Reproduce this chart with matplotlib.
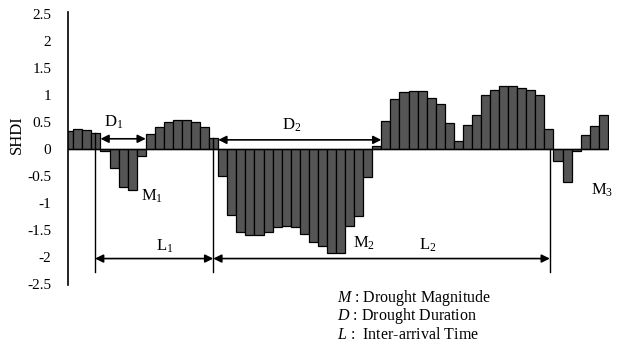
import numpy as np
import matplotlib
matplotlib.use("Agg")
import matplotlib.pyplot as plt

plt.rcParams["font.family"] = ["Liberation Serif", "DejaVu Serif"]
plt.rcParams["mathtext.fontset"] = "custom"
plt.rcParams["mathtext.rm"] = "Liberation Serif"
plt.rcParams["mathtext.it"] = "Liberation Serif:italic"

# ── Data ─────────────────────────────────────────────────────
# SHDI value of each period
shdi = [
    0.33, 0.38, 0.36, 0.29, -0.04, -0.35, -0.70, -0.75, -0.13, 0.28,
    0.41, 0.50, 0.54, 0.54, 0.50, 0.41, 0.21, -0.50, -1.22, -1.53,
    -1.60, -1.60, -1.53, -1.45, -1.43, -1.45, -1.58, -1.72, -1.80, -1.93,
    -1.93, -1.42, -1.25, -0.52, 0.05, 0.52, 0.92, 1.06, 1.08, 1.08,
    0.94, 0.83, 0.49, 0.15, 0.44, 0.63, 1.00, 1.10, 1.17, 1.17,
    1.14, 1.09, 1.00, 0.38, -0.22, -0.62, -0.04, 0.26, 0.43, 0.63,
]
periods = np.arange(len(shdi))

y_ticks = [2.5, 2, 1.5, 1, 0.5, 0, -0.5, -1, -1.5, -2, -2.5]
y_tick_labels = ["2.5", "2", "1.5", "1", "0.5", "0", "-0.5", "-1", "-1.5", "-2", "-2.5"]

# event boundaries (period positions) used for the L markers
l_marks = [2.9, 15.95, 53.1]
l_mark_tops = [0.29, 0.21, 0.0]

legend_lines = [
    r"$\mathit{M}$ : Drought Magnitude",
    r"$\mathit{D}$ : Drought Duration",
    r"$\mathit{L}$ :  Inter-arrival Time",
]

# ── Figure ───────────────────────────────────────────────────
W, H = 619, 346
fig = plt.figure(figsize=(W / 100, H / 100), dpi=100)
ax = fig.add_axes([68 / W, (H - 285) / H, 541 / W, 273 / H])

ax.bar(periods, shdi, width=1.0, color="#555555", edgecolor="black",
       linewidth=0.9, zorder=2)
ax.axhline(0, color="black", lw=1.0, zorder=3)

ax.set_xlim(-0.085, 59.63)
ax.set_ylim(-2.52, 2.54)
for s in ["top", "right", "bottom"]:
    ax.spines[s].set_visible(False)
ax.spines["left"].set_linewidth(1.2)
ax.set_xticks([])
ax.set_yticks(y_ticks)
ax.set_yticklabels(y_tick_labels, fontsize=11)
ax.tick_params(axis="y", length=0, pad=12)

fig.text(17 / W, 1 - 135 / H, "SHDI", rotation=90, fontsize=12,
         ha="center", va="center")

# vertical marker lines
for xm, top in zip(l_marks, l_mark_tops):
    ax.plot([xm, xm], [top, -2.28], color="black", lw=1.0, zorder=4)


def double_arrow(x0, x1, y):
    ax.annotate("", xy=(x1, y), xytext=(x0, y),
                arrowprops=dict(arrowstyle="<|-|>", color="black", lw=1.2,
                                mutation_scale=12, shrinkA=0, shrinkB=0),
                zorder=5)


double_arrow(3.5, 8.5, 0.19)
double_arrow(16.5, 34.5, 0.17)
double_arrow(l_marks[0], l_marks[1], -2.03)
double_arrow(l_marks[1], l_marks[2], -2.03)

lab_kw = dict(fontsize=12, ha="center", va="center", zorder=6)
ax.text(5.0, 0.50, r"D$_{\mathrm{1}}$", **lab_kw)
ax.text(24.6, 0.44, r"D$_{\mathrm{2}}$", **lab_kw)
ax.text(9.2, -0.88, r"M$_{\mathrm{1}}$", **lab_kw)
ax.text(32.6, -1.74, r"M$_{\mathrm{2}}$", **lab_kw)
ax.text(58.9, -0.76, r"M$_{\mathrm{3}}$", **lab_kw)
ax.text(10.6, -1.81, r"L$_{\mathrm{1}}$", **lab_kw)
ax.text(39.6, -1.78, r"L$_{\mathrm{2}}$", **lab_kw)

for i, line in enumerate(legend_lines):
    fig.text(337 / W, 1 - (298 + 18.5 * i) / H, line, fontsize=11.5,
             ha="left", va="center")

fig.savefig("out.png", dpi=100)
